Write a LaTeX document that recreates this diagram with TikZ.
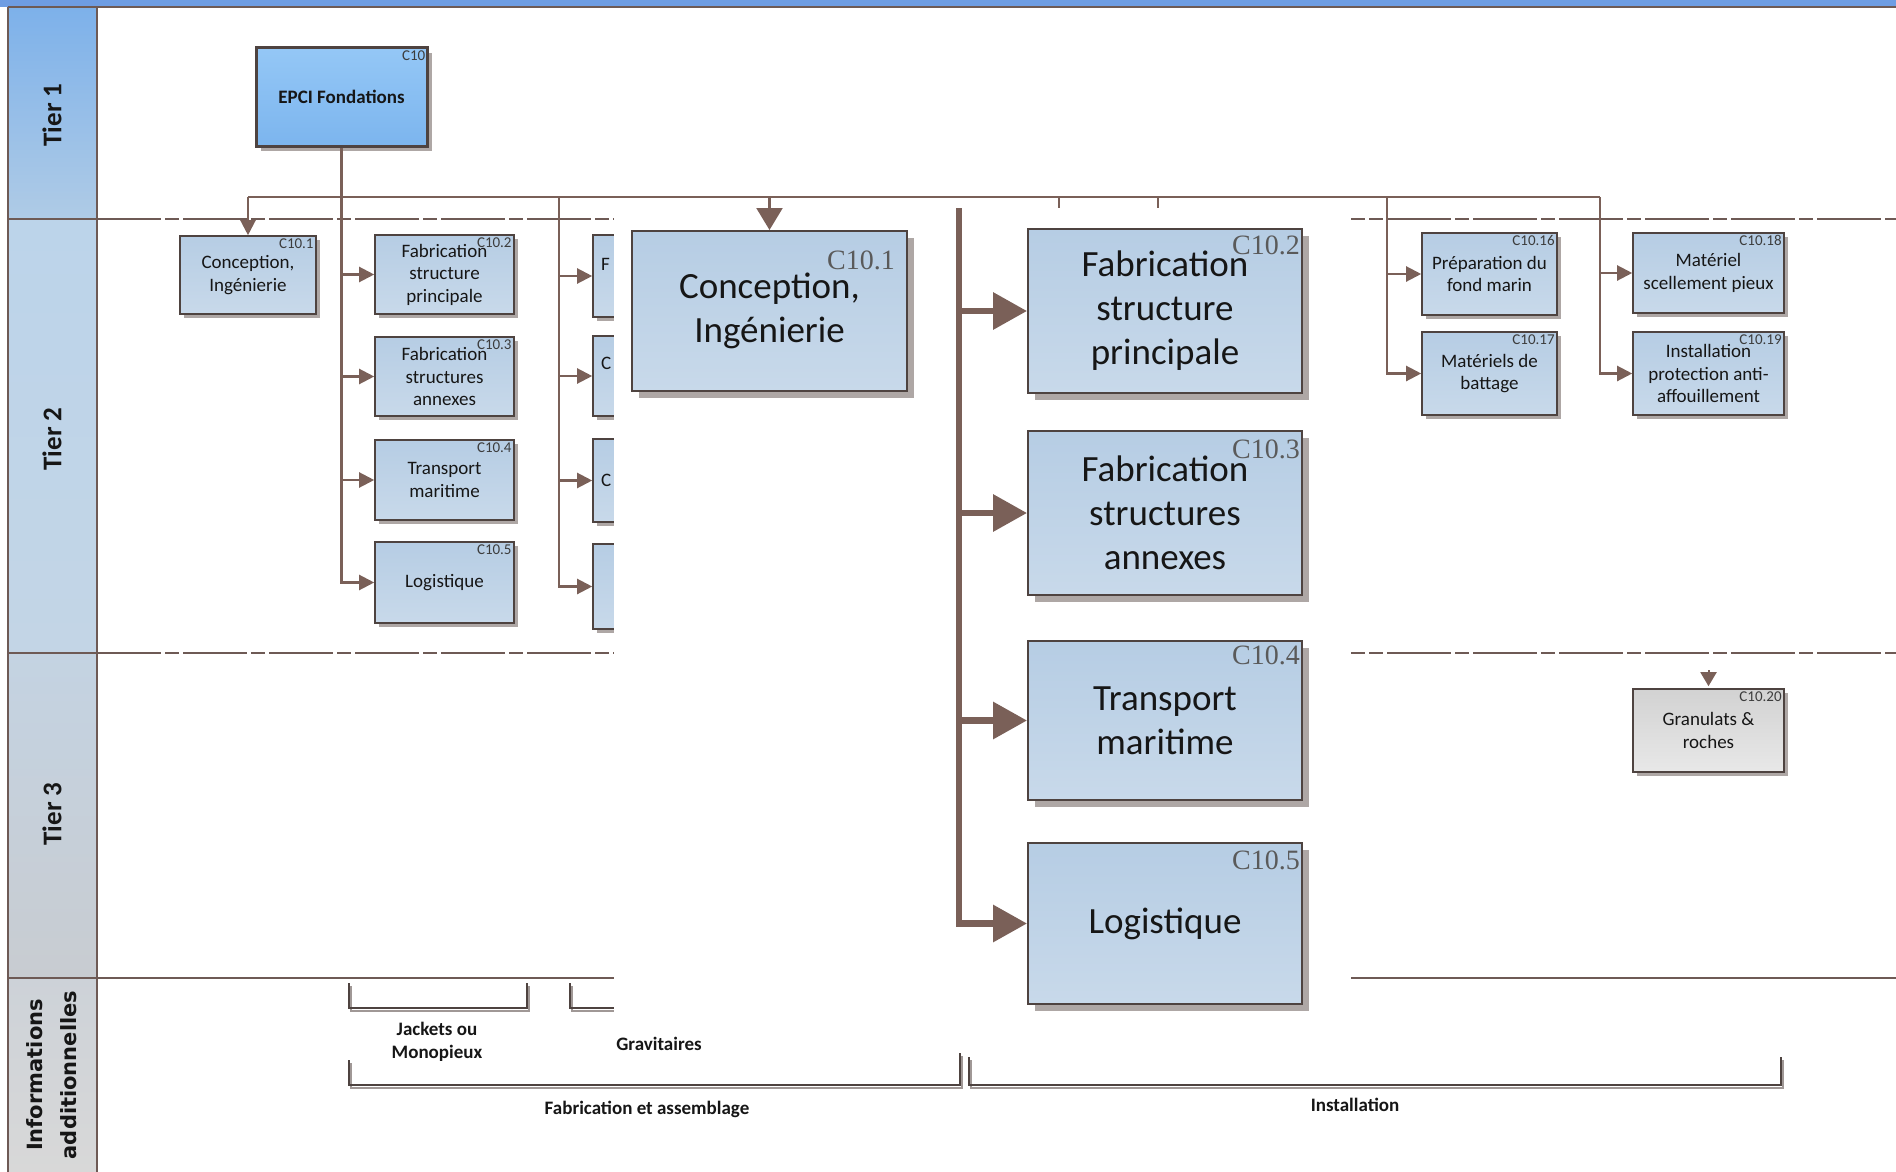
\documentclass[tikz,border=0pt]{standalone}
\usepackage{fontspec}
\setmainfont{Carlito}
\newfontfamily\labfont{Liberation Serif}
\newfontfamily\wfont{DejaVu Sans}
\usetikzlibrary{arrows.meta,shadows}
\definecolor{topbar}{HTML}{6E9DE3}
\definecolor{sepc}{HTML}{6E5A55}
\definecolor{brn}{HTML}{7A6058}
\definecolor{bdr}{HTML}{4E4340}
\definecolor{bxa}{HTML}{B6CDE4}
\definecolor{bxb}{HTML}{C8D9EA}
\definecolor{epa}{HTML}{94C7F6}
\definecolor{epb}{HTML}{7CB5EE}
\definecolor{gra}{HTML}{D2D2D2}
\definecolor{grb}{HTML}{E8E8E8}
\definecolor{shd}{HTML}{A09896}
\definecolor{txt}{HTML}{161616}
\definecolor{labc}{HTML}{3C3C3C}
\definecolor{labb}{HTML}{5A5A5A}
\definecolor{t1a}{HTML}{7DB1EA}
\definecolor{t1b}{HTML}{AFCBE6}
\definecolor{t2a}{HTML}{BCD4EA}
\definecolor{t2b}{HTML}{C3D5E6}
\definecolor{t3a}{HTML}{C4D3E2}
\definecolor{t3b}{HTML}{C8CCD1}
\definecolor{t4a}{HTML}{CDD2D8}
\definecolor{t4b}{HTML}{D8D8D8}
\tikzset{
 sepl/.style={draw=sepc, line width=2pt},
 dsh/.style={sepl, dash pattern=on 64pt off 4pt on 14pt off 4pt},
 conn/.style={draw=brn, line width=2.2pt},
 arr/.style={conn, -{Triangle[length=15pt,width=15pt]}},
 sbox/.style={draw=bdr, line width=1.6pt, top color=bxa, bottom color=bxb, align=center, inner sep=0pt, text=txt, font=\fontsize{19}{22.5}\selectfont, drop shadow={shadow xshift=4pt, shadow yshift=-4pt, fill=shd, opacity=0.85}},
 ebox/.style={draw=bdr, line width=3pt, top color=epa, bottom color=epb, align=center, inner sep=0pt, text=txt, font=\bfseries\fontsize{19}{23}\selectfont, drop shadow={shadow xshift=5pt, shadow yshift=-5pt, fill=shd, opacity=0.85}},
 gbox/.style={sbox, top color=gra, bottom color=grb},
 bbox/.style={draw=bdr, line width=2pt, top color=bxa, bottom color=bxb, align=center, inner sep=0pt, text=txt, font=\fontsize{37}{44}\selectfont, drop shadow={shadow xshift=7pt, shadow yshift=-7pt, fill=shd, opacity=0.85}},
 slab/.style={inner sep=0pt, anchor=north east, text=labc, font=\fontsize{15}{15}\selectfont},
 blab/.style={inner sep=0pt, anchor=north east, text=labb, font=\labfont\fontsize{28}{28}\selectfont},
 bigarr/.style={draw=brn, line width=6.5pt, line join=miter, -{Triangle[length=34pt,width=36pt]}},
 tier/.style={rotate=90, text=txt, font=\bfseries\fontsize{27}{27}\selectfont},
 infol/.style={rotate=90, align=center, text=txt, font=\wfont\bfseries\fontsize{21}{34}\selectfont},
 brk/.style={draw=bdr, line width=1.8pt},
 brks/.style={draw=shd, line width=2.5pt},
 blbl/.style={align=center, text=txt, font=\bfseries\fontsize{19}{23}\selectfont},
 letr/.style={anchor=west, inner sep=0pt, text=txt, font=\fontsize{19}{19}\selectfont},
}
\begin{document}
\begin{tikzpicture}[x=1pt,y=-1pt]
\useasboundingbox (0,0) rectangle (1896,1172);
\fill[white] (0,0) rectangle (1896,1172);
\fill[topbar] (0,0) rectangle (1896,7);
% header column
\shade[top color=t1a, bottom color=t1b] (8,7) rectangle (97,219);
\shade[top color=t2a, bottom color=t2b] (8,219) rectangle (97,653);
\shade[top color=t3a, bottom color=t3b] (8,653) rectangle (97,978);
\shade[top color=t4a, bottom color=t4b] (8,978) rectangle (97,1172);
\draw[sepl] (8,7) -- (1896,7);
\draw[sepl] (8,7) -- (8,1172);
\draw[sepl] (97,7) -- (97,1172);
\draw[sepl] (8,219) -- (97,219);
\draw[sepl] (8,653) -- (97,653);
\draw[dsh] (97,219) -- (1896,219);
\draw[dsh] (97,653) -- (1896,653);
\draw[sepl] (8,978) -- (1896,978);
\node[tier] (tier1) at (52,115) {Tier 1};
\node[tier] (tier2) at (52,439) {Tier 2};
\node[tier] (tier3) at (52,814) {Tier 3};
\node[infol] (info) at (52,1075) {Informations\\additionnelles};
% tier 1
\node[ebox, minimum width=171pt, minimum height=98pt] (epci) at (341.5,97) {EPCI Fondations};
\node[slab] (lepci) at ([shift={(-3,4)}]epci.north east) {C10};
% small boxes, column 1
\node[sbox, minimum width=136pt, minimum height=78pt] (c101) at (248,275) {Conception,\\Ingénierie};
\node[sbox, minimum width=139pt, minimum height=79pt] (c102) at (444.5,274.5) {Fabrication\\structure\\principale};
\node[sbox, minimum width=139pt, minimum height=79pt] (c103) at (444.5,376.5) {Fabrication\\structures\\annexes};
\node[sbox, minimum width=139pt, minimum height=80pt] (c104) at (444.5,480) {Transport\\maritime};
\node[sbox, minimum width=139pt, minimum height=81pt] (c105) at (444.5,582.5) {Logistique};
\node[slab] (lc101) at ([shift={(-3,3)}]c101.north east) {C10.1};
\node[slab] (lc102) at ([shift={(-3,3)}]c102.north east) {C10.2};
\node[slab] (lc103) at ([shift={(-3,3)}]c103.north east) {C10.3};
\node[slab] (lc104) at ([shift={(-3,3)}]c104.north east) {C10.4};
\node[slab] (lc105) at ([shift={(-3,3)}]c105.north east) {C10.5};
% column 2 (mostly hidden)
\node[sbox, minimum width=142pt, minimum height=82pt] (d1) at (664,276) {};
\node[sbox, minimum width=142pt, minimum height=80pt] (d2) at (664,376) {};
\node[sbox, minimum width=142pt, minimum height=83pt] (d3) at (664,480.5) {};
\node[sbox, minimum width=142pt, minimum height=85pt] (d4) at (664,586.5) {};
\node[letr] (d1t) at (601,264) {F};
\node[letr] (d2t) at (601,363) {C};
\node[letr] (d3t) at (601,480) {C};
% right boxes
\node[sbox, minimum width=135pt, minimum height=82pt] (c1016) at (1489.5,274) {Préparation du\\fond marin};
\node[sbox, minimum width=135pt, minimum height=83pt] (c1017) at (1489.5,373.5) {Matériels de\\battage};
\node[sbox, minimum width=151pt, minimum height=80pt] (c1018) at (1708.5,273) {Matériel\\scellement pieux};
\node[sbox, minimum width=151pt, minimum height=83pt] (c1019) at (1708.5,373.5) {Installation\\protection anti-\\affouillement};
\node[gbox, minimum width=151pt, minimum height=83pt] (c1020) at (1708.5,730.5) {Granulats \&\\roches};
\node[slab] (lc1016) at ([shift={(-3,3)}]c1016.north east) {C10.16};
\node[slab] (lc1017) at ([shift={(-3,3)}]c1017.north east) {C10.17};
\node[slab] (lc1018) at ([shift={(-3,3)}]c1018.north east) {C10.18};
\node[slab] (lc1019) at ([shift={(-3,3)}]c1019.north east) {C10.19};
\node[slab] (lc1020) at ([shift={(-3,3)}]c1020.north east) {C10.20};
% connectors
\coordinate (h1) at (248,197);
\coordinate (h2) at (559,197);
\coordinate (h3) at (769.5,197);
\coordinate (h4) at (1059,197);
\coordinate (h5) at (1158,197);
\coordinate (h6) at (1387,197);
\coordinate (h7) at (1600,197);
\coordinate (k4) at (1059,216);
\coordinate (k5) at (1158,216);
\coordinate (g20) at (1708.5,670);
\draw[conn] (h1) -- (h7);
\draw[arr] (h1) -- (c101.north);
\draw[arr] (epci.south) |- (c105.west);
\draw[arr] (epci.south |- c102.west) -- (c102.west);
\draw[arr] (epci.south |- c103.west) -- (c103.west);
\draw[arr] (epci.south |- c104.west) -- (c104.west);
\draw[arr] (h2) |- (d4.west);
\draw[arr] (h2 |- d1.west) -- (d1.west);
\draw[arr] (h2 |- d2.west) -- (d2.west);
\draw[arr] (h2 |- d3.west) -- (d3.west);
\draw[conn] (h4) -- (k4);
\draw[conn] (h5) -- (k5);
\draw[arr] (h6) |- (c1017.west);
\draw[arr] (h6 |- c1016.west) -- (c1016.west);
\draw[arr] (h7) |- (c1019.west);
\draw[arr] (h7 |- c1018.west) -- (c1018.west);
\draw[draw=brn, line width=2pt, shorten >=2pt, -{Triangle[length=14pt,width=16pt]}] (g20) -- (c1020.north);
% info brackets (left ones)
\draw[brks, shift={(2,3)}] (349,983) |- (527,1008) -- (527,983);
\draw[brk] (349,983) |- (527,1008) -- (527,983);
\draw[brks, shift={(2,3)}] (570,983) |- (740,1008) -- (740,983);
\draw[brk] (570,983) |- (740,1008) -- (740,983);
% inset (magnified view)
\fill[white] (614,208) rectangle (1351,1020);
\coordinate (bartop) at (959,208);
\node[bbox, minimum width=275pt, minimum height=160pt] (c101b) at (769.5,311) {Conception,\\Ingénierie};
\node[bbox, minimum width=274pt, minimum height=164pt] (c102b) at (1165,311) {Fabrication\\structure\\principale};
\node[bbox, minimum width=274pt, minimum height=164pt] (c103b) at (1165,513) {Fabrication\\structures\\annexes};
\node[bbox, minimum width=274pt, minimum height=159pt] (c104b) at (1165,720.5) {Transport\\maritime};
\node[bbox, minimum width=274pt, minimum height=161pt] (c105b) at (1165,923.5) {Logistique};
\node[blab] (lc101b) at ([shift={(-13,21)}]c101b.north east) {C10.1};
\node[blab] (lc102b) at ([shift={(-3,8)}]c102b.north east) {C10.2};
\node[blab] (lc103b) at ([shift={(-3,10)}]c103b.north east) {C10.3};
\node[blab] (lc104b) at ([shift={(-3,6)}]c104b.north east) {C10.4};
\node[blab] (lc105b) at ([shift={(-3,9)}]c105b.north east) {C10.5};
\draw[conn, -{Triangle[length=22pt,width=26pt]}] (h3) -- (c101b.north);
\draw[bigarr] (bartop) |- (c105b.west);
\draw[bigarr] (bartop |- c102b.west) -- (c102b.west);
\draw[bigarr] (bartop |- c103b.west) -- (c103b.west);
\draw[bigarr] (bartop |- c104b.west) -- (c104b.west);
% info brackets (lower ones)
\draw[brks, shift={(2,3)}] (349,1060) |- (960,1085) -- (960,1053);
\draw[brk] (349,1060) |- (960,1085) -- (960,1053);
\draw[brks, shift={(2,3)}] (969,1057) |- (1781,1085) -- (1781,1057);
\draw[brk] (969,1057) |- (1781,1085) -- (1781,1057);
\node[blbl] (ljack) at (437,1042) {Jackets ou\\Monopieux};
\node[blbl] (lgrav) at (659,1044) {Gravitaires};
\node[blbl] (lfab) at (647,1109) {Fabrication et assemblage};
\node[blbl] (linst) at (1355,1105) {Installation};
\end{tikzpicture}
\end{document}
